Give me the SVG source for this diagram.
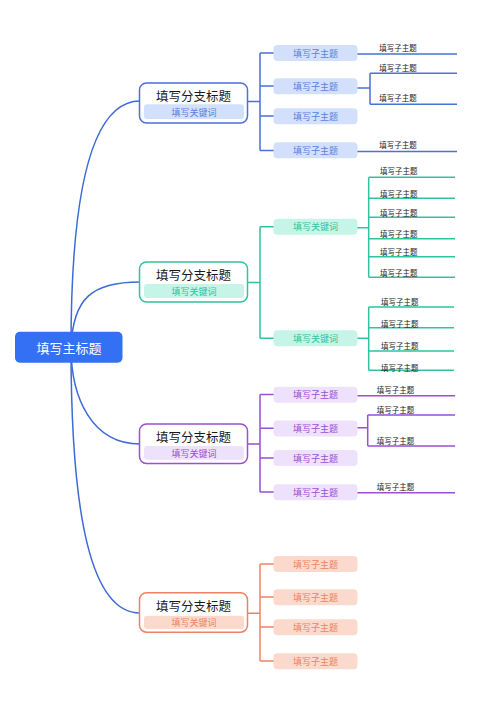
<svg xmlns="http://www.w3.org/2000/svg" width="500" height="707" viewBox="0 0 500 707">
<style>
text{font-family:"Noto Sans CJK SC","Liberation Sans",sans-serif;text-anchor:middle;dominant-baseline:central}
.c{fill:none;stroke-width:1.5}
.b1{stroke:#4a70d9}.b2{stroke:#2fc3a0}.b3{stroke:#9a4fd4}.b4{stroke:#f08263}
.root{stroke:#3d6ad6}
.box{fill:#fff;stroke-width:1.5}
.title{font-size:12.5px;fill:#1a1a1a}
.kw{font-size:9px}
.sub{font-size:9px}
.leaf{font-size:7.5px;fill:#222;text-anchor:start}
</style>
<rect width="500" height="707" fill="#fff"/>
<g id="connectors">
  <path class="c root" d="M71,347 C71,190 92,101 140,101"/>
  <path class="c root" d="M71,347 C73,298 92,282 140,282"/>
  <path class="c root" d="M71,347 C71,398 92,444 140,444"/>
  <path class="c root" d="M71,347 C71,520 92,613 140,613"/>
  <!-- branch 1 -->
  <path class="c b1" d="M243,101.5 H260 M260,53 V150.5 M260,53 H274 M260,86 H274 M260,116 H274 M260,150.5 H274"/>
  <path class="c b1" d="M357,54 H457 M353,88 H370 M370,73.3 V104.3 M370,73.3 H457 M370,104.3 H457 M357,151.5 H457"/>
  <!-- branch 2 -->
  <path class="c b2" d="M243,282.5 H260 M260,226.7 V338.3 M260,226.7 H274 M260,338.3 H274"/>
  <path class="c b2" d="M357,227.7 H368.7 M368.7,177.3 V277.3 M368.7,177.3 H455 M368.7,198.3 H455 M368.7,217.3 H455 M368.7,238.7 H455 M368.7,256.7 H455 M368.7,277.3 H455"/>
  <path class="c b2" d="M357,338.3 H368.7 M368.7,307 V370.3 M368.7,307 H454 M368.7,327.7 H454 M368.7,351 H454 M368.7,370.3 H454"/>
  <!-- branch 3 -->
  <path class="c b3" d="M243,444 H260 M260,394.5 V492 M260,394.5 H274 M260,428.3 H274 M260,458 H274 M260,492 H274"/>
  <path class="c b3" d="M357,395.7 H455 M357,427.7 H367.7 M367.7,415 V446 M367.7,415 H455 M367.7,446 H455 M357,492.7 H455"/>
  <!-- branch 4 -->
  <path class="c b4" d="M243,613.3 H260 M260,564 V661 M260,564 H274 M260,597 H274 M260,627 H274 M260,661 H274"/>
</g>
<g id="root">
  <rect x="15" y="331.7" width="107.5" height="31" rx="5" fill="#3470f4"/>
  <text x="69" y="347.5" font-size="13" fill="#fff">填写主标题</text>
</g>
<g id="branch1">
  <rect class="box b1" x="139.5" y="83" width="108" height="40" rx="7"/>
  <text class="title" x="193.5" y="95">填写分支标题</text>
  <rect x="144" y="104.3" width="100" height="14.7" rx="3" fill="#d3e0fb"/>
  <text class="kw" x="194" y="112" fill="#5a7fe0">填写关键词</text>
</g>
<g id="b1-sub1"><rect x="273.5" y="45" width="84" height="16" rx="4" fill="#d3e0fb"/><text class="sub" x="315.5" y="53.2" fill="#5a7fe0">填写子主题</text></g>
<g id="b1-sub2"><rect x="273.5" y="78.3" width="84" height="16" rx="4" fill="#d3e0fb"/><text class="sub" x="315.5" y="86.5" fill="#5a7fe0">填写子主题</text></g>
<g id="b1-sub3"><rect x="273.5" y="108.3" width="84" height="16" rx="4" fill="#d3e0fb"/><text class="sub" x="315.5" y="116.5" fill="#5a7fe0">填写子主题</text></g>
<g id="b1-sub4"><rect x="273.5" y="142.3" width="84" height="16" rx="4" fill="#d3e0fb"/><text class="sub" x="315.5" y="150.5" fill="#5a7fe0">填写子主题</text></g>
<g id="b1-leaves">
  <text class="leaf" x="379.3" y="47.3">填写子主题</text>
  <text class="leaf" x="379.3" y="67.7">填写子主题</text>
  <text class="leaf" x="379.3" y="97.7">填写子主题</text>
  <text class="leaf" x="379.3" y="144.5">填写子主题</text>
</g>
<g id="branch2">
  <rect class="box b2" x="139.5" y="262" width="108" height="40" rx="7"/>
  <text class="title" x="193.5" y="274.3">填写分支标题</text>
  <rect x="144" y="284" width="100" height="14" rx="3" fill="#c6f5e7"/>
  <text class="kw" x="194" y="291.2" fill="#2fc3a0">填写关键词</text>
</g>
<g id="b2-sub1"><rect x="273.5" y="218.7" width="84" height="16" rx="4" fill="#c6f5e7"/><text class="sub" x="315.5" y="226.9" fill="#2fc3a0">填写关键词</text></g>
<g id="b2-sub2"><rect x="273.5" y="330.3" width="84" height="16" rx="4" fill="#c6f5e7"/><text class="sub" x="315.5" y="338.5" fill="#2fc3a0">填写关键词</text></g>
<g id="b2-leaves">
  <text class="leaf" x="380" y="170.7">填写子主题</text>
  <text class="leaf" x="380" y="193.3">填写子主题</text>
  <text class="leaf" x="380" y="212.7">填写子主题</text>
  <text class="leaf" x="380" y="233.3">填写子主题</text>
  <text class="leaf" x="380" y="251.3">填写子主题</text>
  <text class="leaf" x="380" y="272.3">填写子主题</text>
  <text class="leaf" x="381" y="301.7">填写子主题</text>
  <text class="leaf" x="381" y="323.7">填写子主题</text>
  <text class="leaf" x="381" y="345.7">填写子主题</text>
  <text class="leaf" x="381" y="367.3">填写子主题</text>
</g>
<g id="branch3">
  <rect class="box b3" x="139.5" y="424" width="108" height="39.5" rx="7"/>
  <text class="title" x="193.5" y="436">填写分支标题</text>
  <rect x="144" y="446" width="100" height="13.7" rx="3" fill="#eee1fb"/>
  <text class="kw" x="194" y="453" fill="#9a4fd4">填写关键词</text>
</g>
<g id="b3-sub1"><rect x="273.5" y="386.7" width="84" height="16" rx="4" fill="#eee1fb"/><text class="sub" x="315.5" y="394.9" fill="#9a4fd4">填写子主题</text></g>
<g id="b3-sub2"><rect x="273.5" y="420.5" width="84" height="16" rx="4" fill="#eee1fb"/><text class="sub" x="315.5" y="428.7" fill="#9a4fd4">填写子主题</text></g>
<g id="b3-sub3"><rect x="273.5" y="450" width="84" height="16" rx="4" fill="#eee1fb"/><text class="sub" x="315.5" y="458.2" fill="#9a4fd4">填写子主题</text></g>
<g id="b3-sub4"><rect x="273.5" y="484.2" width="84" height="16" rx="4" fill="#eee1fb"/><text class="sub" x="315.5" y="492.4" fill="#9a4fd4">填写子主题</text></g>
<g id="b3-leaves">
  <text class="leaf" x="376.7" y="389">填写子主题</text>
  <text class="leaf" x="376.7" y="409.3">填写子主题</text>
  <text class="leaf" x="376.7" y="440">填写子主题</text>
  <text class="leaf" x="376.7" y="486.7">填写子主题</text>
</g>
<g id="branch4">
  <rect class="box b4" x="139.5" y="592.7" width="108" height="39.5" rx="7"/>
  <text class="title" x="193.5" y="605">填写分支标题</text>
  <rect x="144" y="615.7" width="100" height="13.3" rx="3" fill="#fbdacd"/>
  <text class="kw" x="194" y="622.5" fill="#f08263">填写关键词</text>
</g>
<g id="b4-sub1"><rect x="273.5" y="556" width="84" height="16" rx="4" fill="#fbdacd"/><text class="sub" x="315.5" y="564.2" fill="#f08263">填写子主题</text></g>
<g id="b4-sub2"><rect x="273.5" y="589.3" width="84" height="16" rx="4" fill="#fbdacd"/><text class="sub" x="315.5" y="597.5" fill="#f08263">填写子主题</text></g>
<g id="b4-sub3"><rect x="273.5" y="619.3" width="84" height="16" rx="4" fill="#fbdacd"/><text class="sub" x="315.5" y="627.5" fill="#f08263">填写子主题</text></g>
<g id="b4-sub4"><rect x="273.5" y="653.3" width="84" height="16" rx="4" fill="#fbdacd"/><text class="sub" x="315.5" y="661.5" fill="#f08263">填写子主题</text></g>
</svg>
